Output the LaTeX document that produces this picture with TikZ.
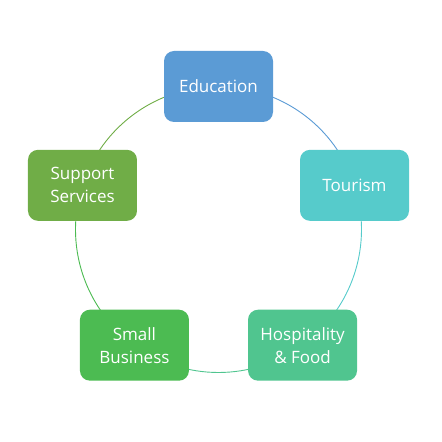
\documentclass[tikz,border=0pt]{standalone}
\usepackage{fontspec}
\setmainfont{Open Sans}
\definecolor{cEdu}{HTML}{5B9BD5}
\definecolor{cTour}{HTML}{56CBCB}
\definecolor{cHosp}{HTML}{50C58F}
\definecolor{cSmall}{HTML}{4CBB52}
\definecolor{cSupp}{HTML}{70AD47}
\begin{document}
\begin{tikzpicture}[x=1pt,y=1pt,
  box/.style={rounded corners=10pt, minimum width=109pt, minimum height=71pt,
    text=white, align=center, inner sep=2pt,
    font=\fontsize{17}{23}\selectfont},
  ring/.style={line width=0.9pt}]
\useasboundingbox (0,0) rectangle (442,442);
\coordinate (c) at (218.5,212.5);
\def\R{143}
% ring segments
\draw[ring, cEdu] (c) ++(90:\R) arc[start angle=90, end angle=18, radius=\R];
\draw[ring, cTour] (c) ++(18:\R) arc[start angle=18, end angle=-54, radius=\R];
\draw[ring, cHosp] (c) ++(-54:\R) arc[start angle=-54, end angle=-126, radius=\R];
\draw[ring, cSmall] (c) ++(-126:\R) arc[start angle=-126, end angle=-198, radius=\R];
\draw[ring, cSupp] (c) ++(162:\R) arc[start angle=162, end angle=90, radius=\R];
% boxes
\node[box, fill=cEdu] (edu) at ([shift={(90:\R)}]c) {Education};
\node[box, fill=cTour] (tour) at ([shift={(18:\R)}]c) {Tourism};
\node[box, fill=cHosp] (hosp) at ([shift={(-54:\R)}]c) {Hospitality\\\& Food};
\node[box, fill=cSmall] (small) at ([shift={(-126:\R)}]c) {Small\\Business};
\node[box, fill=cSupp] (supp) at ([shift={(162:\R)}]c) {Support\\Services};
\end{tikzpicture}
\end{document}
